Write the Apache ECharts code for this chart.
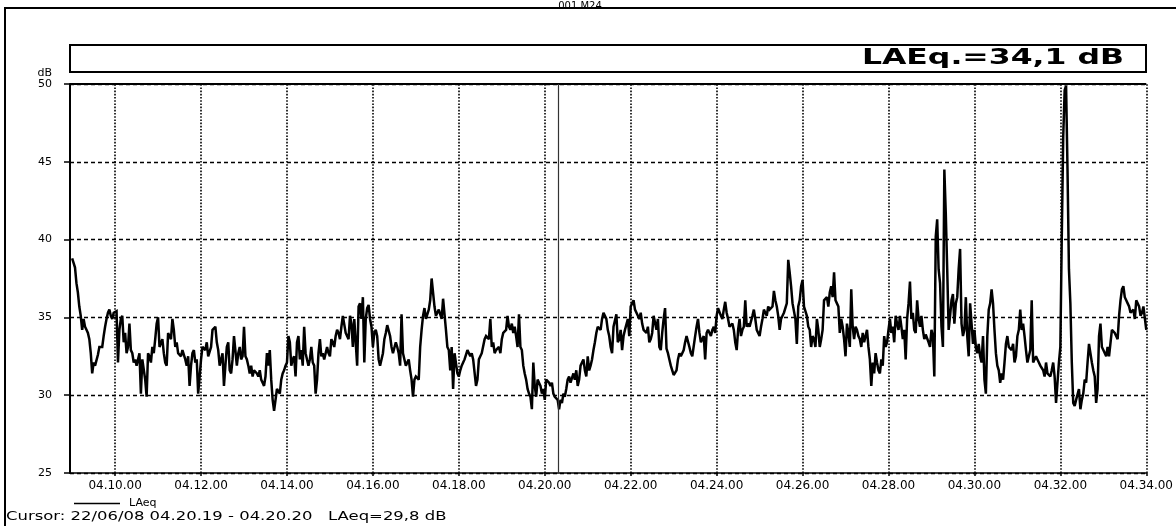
<!DOCTYPE html>
<html>
<head>
<meta charset="utf-8">
<script src="https://cdn.jsdelivr.net/npm/echarts@6/dist/echarts.min.js"></script>
<style>
	html, body { margin: 0; padding: 0; background: #fff; }
	#chart { width: 1176px; height: 526px; }
</style>
</head>
<body>
<div id="chart"></div>
<script>
// measurement: LAeq every 2 s from 04:09:00 (seconds since midnight),
// split in two read-offs: on the 4 s marks and 2 s after them
const startSec = 14940;
const stepSec = 4;
const laeqOnMark = [
	38.8, 38.2, 36.6, 35.1, 34.9, 34.2, 33.6, 31.4, 31.9, 32.6,
	33.1, 33.8, 34.9, 35.5, 34.9, 35.4, 32.1, 34.9, 33.4, 32.7,
	34.6, 32.7, 32.3, 31.9, 30.1, 32.3, 29.9, 32.5, 33.1, 33.6,
	35.0, 33.1, 32.7, 31.9, 34.0, 34.9, 33.1, 32.7, 32.5, 32.9,
	31.9, 30.6, 32.7, 32.1, 30.1, 32.3, 33.1, 33.4, 32.5, 34.2,
	34.4, 32.9, 31.9, 30.6, 33.1, 31.6, 32.3, 33.8, 32.7, 32.3,
	34.4, 32.3, 31.4, 31.2, 31.6, 31.2, 31.0, 30.6, 32.7, 32.9,
	29.7, 29.0, 30.3, 31.0, 31.6, 32.1, 33.4, 32.3, 31.2, 33.8,
	32.9, 34.4, 32.3, 32.3, 32.1, 30.1, 32.7, 32.5, 32.3, 33.1,
	32.5, 33.4, 33.8, 34.0, 34.4, 35.1, 34.0, 35.1, 33.1, 34.9,
	35.7, 34.9, 32.1, 35.6, 34.9, 33.1, 34.2, 32.3, 31.9, 33.6,
	34.5, 33.8, 32.7, 33.4, 32.7, 35.2, 32.3, 31.9, 31.6, 29.9,
	31.2, 31.0, 34.2, 35.6, 34.9, 36.1, 37.5, 35.1, 35.5, 34.9,
	36.2, 33.1, 31.6, 30.4, 32.7, 31.2, 31.9, 32.3, 32.9, 32.5,
	32.3, 30.6, 32.3, 32.7, 33.6, 33.8, 34.9, 33.4, 32.9, 33.1,
	33.6, 34.0, 35.1, 34.2, 34.0, 33.8, 35.2, 32.9, 31.4, 30.4,
	29.9, 32.1, 29.9, 30.8, 30.1, 29.7, 31.0, 30.6, 30.1, 29.9,
	29.1, 29.5, 29.9, 31.0, 30.8, 31.4, 31.6, 31.0, 32.1, 31.6,
	32.5, 31.9, 32.9, 34.0, 34.4, 34.9, 35.4, 34.2, 33.1, 34.4,
	35.2, 33.6, 32.9, 34.2, 34.9, 35.7, 36.1, 35.4, 34.9, 34.6,
	34.2, 34.4, 33.6, 35.1, 34.2, 33.1, 34.0, 35.6, 32.7, 31.9,
	31.3, 31.6, 32.7, 32.7, 33.4, 33.8, 32.7, 32.5, 34.4, 34.0,
	33.4, 32.3, 34.2, 33.8, 34.4, 35.1, 35.6, 34.9, 36.0, 34.9,
	34.4, 34.2, 32.9, 34.9, 34.2, 36.1, 34.6, 34.4, 35.5, 34.2,
	33.8, 34.9, 35.3, 35.7, 35.5, 36.7, 35.7, 34.2, 35.1, 35.3,
	38.7, 37.0, 35.9, 33.3, 36.1, 37.4, 35.7, 34.4, 33.1, 33.6,
	34.9, 33.1, 34.2, 36.1, 35.7, 37.0, 37.9, 35.9, 34.0, 34.4,
	32.5, 34.0, 36.8, 33.6, 34.2, 33.6, 34.0, 33.4, 33.1, 30.6,
	31.4, 32.1, 31.4, 31.9, 33.1, 34.2, 34.0, 33.4, 34.6, 35.1,
	33.6, 32.3, 35.9, 34.9, 34.2, 36.1, 34.4, 34.2, 33.9, 33.4,
	34.2, 31.2, 41.3, 37.2, 33.1, 41.7, 34.2, 36.1, 34.6, 36.3,
	39.4, 33.8, 36.3, 32.5, 34.6, 34.2, 32.7, 32.5, 33.8, 30.1,
	35.5, 36.8, 34.2, 31.9, 30.8, 31.0, 33.3, 33.1, 32.9, 32.1,
	33.8, 35.5, 34.6, 32.9, 32.1, 36.1, 32.1, 32.3, 31.9, 31.6,
	32.1, 31.4, 31.6, 31.2, 29.5, 33.1, 46.6, 49.9, 38.1, 32.1,
	29.3, 29.7, 29.1, 30.1, 30.8, 33.3, 32.1, 31.2, 30.4, 34.6,
	32.9, 32.5, 32.5, 34.2, 34.0, 33.6, 36.1, 37.0, 36.1, 35.7,
	35.3, 34.9, 35.9, 35.1, 35.7, 34.2
];
const laeqBetween = [
	38.5, 37.2, 35.7, 34.2, 34.4, 34.0, 32.7, 32.1, 31.9, 33.1,
	33.1, 34.4, 35.3, 35.1, 35.3, 35.4, 34.2, 35.1, 34.0, 33.1,
	32.9, 32.1, 31.9, 32.7, 32.3, 31.0, 32.7, 32.1, 32.7, 34.6,
	33.1, 33.6, 32.1, 34.0, 33.6, 34.2, 33.4, 32.7, 32.9, 32.3,
	32.5, 31.9, 32.9, 32.3, 31.2, 33.1, 32.9, 32.5, 33.1, 34.2,
	33.4, 31.9, 32.7, 31.9, 33.4, 31.4, 33.8, 31.9, 33.1, 32.5,
	32.5, 31.9, 31.9, 31.6, 31.4, 31.6, 30.8, 31.2, 31.9, 31.0,
	29.0, 30.4, 30.1, 31.4, 31.9, 33.8, 31.9, 32.5, 33.4, 32.3,
	31.9, 32.7, 31.9, 33.1, 31.9, 31.0, 33.6, 32.7, 32.3, 32.7,
	33.6, 33.1, 34.2, 33.6, 35.1, 34.0, 33.6, 34.6, 34.9, 31.9,
	35.9, 36.3, 34.9, 35.8, 34.4, 34.0, 33.8, 31.9, 32.7, 34.0,
	34.5, 33.1, 32.7, 33.1, 31.9, 32.7, 31.9, 32.3, 31.0, 31.0,
	31.2, 33.1, 35.1, 34.9, 35.5, 37.5, 35.7, 35.1, 35.5, 36.2,
	34.2, 32.9, 33.1, 32.7, 31.4, 31.6, 32.1, 32.3, 32.9, 32.7,
	32.3, 31.0, 32.5, 32.7, 33.8, 33.6, 33.1, 32.7, 32.9, 32.7,
	34.0, 34.2, 34.4, 34.6, 34.4, 33.1, 33.1, 31.9, 31.0, 30.1,
	29.1, 30.6, 31.0, 30.6, 30.4, 31.0, 30.8, 30.8, 29.9, 29.7,
	29.7, 30.1, 30.4, 31.2, 30.8, 31.0, 30.6, 31.9, 32.3, 31.2,
	31.6, 32.3, 33.4, 34.4, 34.2, 35.3, 34.9, 33.8, 32.7, 34.4,
	33.4, 34.2, 33.8, 34.2, 33.8, 35.9, 35.5, 35.1, 35.3, 34.2,
	34.0, 33.4, 34.0, 35.1, 34.9, 32.9, 34.9, 33.0, 32.3, 31.6,
	31.2, 32.3, 32.5, 32.9, 33.8, 33.1, 32.5, 33.8, 34.9, 33.4,
	33.8, 34.0, 34.2, 34.2, 34.0, 35.6, 35.1, 35.5, 35.3, 34.4,
	34.6, 33.4, 34.2, 33.8, 34.4, 34.4, 34.4, 35.1, 34.9, 34.0,
	34.4, 35.5, 35.1, 35.5, 35.7, 36.1, 35.1, 34.9, 35.3, 35.9,
	37.9, 35.9, 34.9, 35.7, 37.0, 35.7, 35.1, 34.2, 33.8, 33.1,
	34.2, 33.6, 36.1, 36.3, 36.6, 36.3, 36.1, 35.7, 34.9, 33.6,
	34.6, 33.1, 34.4, 34.4, 33.8, 33.1, 33.4, 34.2, 32.3, 32.1,
	32.7, 31.6, 32.3, 33.8, 33.4, 34.9, 34.4, 35.1, 34.2, 34.4,
	34.2, 34.9, 37.3, 35.3, 34.0, 34.9, 35.1, 33.6, 33.8, 33.1,
	33.8, 40.2, 38.1, 34.4, 44.5, 38.1, 35.1, 36.5, 35.9, 38.1,
	34.6, 34.2, 33.8, 35.9, 33.3, 33.1, 33.3, 32.1, 31.0, 33.8,
	35.9, 35.9, 32.7, 31.6, 31.4, 32.1, 33.8, 33.1, 33.3, 32.5,
	34.2, 34.2, 33.8, 32.1, 32.9, 32.1, 32.5, 32.1, 31.9, 31.2,
	31.4, 31.2, 32.1, 29.5, 32.1, 40.2, 49.6, 44.5, 35.9, 29.5,
	29.7, 30.4, 29.7, 31.0, 32.1, 32.7, 31.6, 29.5, 33.8, 33.1,
	32.9, 33.1, 32.5, 34.2, 34.0, 35.1, 36.8, 36.3, 35.9, 35.3,
	35.5, 36.1, 35.7, 35.3, 35.7
];
// axis range and labelled ticks (seconds since midnight)
const xMin = 14937; // 04.08.57
const xMax = 16440; // 04.34.00
const tickSecs = [ 15000, 15120, 15240, 15360, 15480, 15600, 15720, 15840, 15960, 16080, 16200, 16320, 16440 ];
const cursorSec = 15619.5; // 04.20.19 - 04.20.20
const yTicks = { min: 25, max: 50, step: 5 };
const fileName = '001.M24';
const totalText = 'LAEq.=34,1 dB';
const cursorText = 'Cursor: 22/06/08 04.20.19 - 04.20.20   LAeq=29,8 dB';

const pad = ( n ) => ( n < 10 ? '0' : '' ) + n;
const fmtTime = ( s ) => pad( Math.floor( s / 3600 ) ) + '.' + pad( Math.floor( s % 3600 / 60 ) ) + '.' + pad( Math.round( s % 60 ) );

// interleave the two read-offs into one 2 s series
const points = [];
laeqOnMark.forEach( ( v, i ) => {
	const t = startSec + i * stepSec;
	points.push( [ t, v ] );
	if ( i < laeqBetween.length ) {
		points.push( [ t + stepSec / 2, laeqBetween[ i ] ] );
	}
} );

const font = '"DejaVu Sans", sans-serif';
const chart = echarts.init( document.getElementById( 'chart' ), null, { renderer: 'canvas' } );

const gridLines = tickSecs.map( ( s ) => ( {
	xAxis: s,
	lineStyle: { color: '#000', width: 1.6, type: [ 1.6, 1.6 ] }
} ) );

chart.setOption( {
	animation: false,
	backgroundColor: '#fff',
	textStyle: { fontFamily: font },
	grid: { left: 70, top: 84, right: 29, bottom: 53, containLabel: false },
	legend: {
		data: [ 'LAeq' ],
		left: 69,
		top: 493,
		icon: 'rect',
		itemWidth: 46,
		itemHeight: 1.5,
		textStyle: { color: '#000', fontSize: 11, fontFamily: font, padding: [ 0, 0, 0, 4 ] }
	},
	xAxis: {
		type: 'value',
		min: xMin,
		max: xMax,
		axisLine: { lineStyle: { color: '#000', width: 1.5 } },
		axisTick: { customValues: tickSecs, length: 3, lineStyle: { color: '#000', width: 1.5 } },
		axisLabel: {
			customValues: tickSecs,
			formatter: fmtTime,
			color: '#000',
			fontSize: 12,
			fontFamily: font,
			margin: 7
		},
		splitLine: { show: false }
	},
	yAxis: {
		type: 'value',
		min: yTicks.min,
		max: yTicks.max,
		interval: yTicks.step,
		name: 'dB',
		nameGap: 9,
		nameTextStyle: { color: '#000', fontSize: 11, fontFamily: font, align: 'right', verticalAlign: 'middle', padding: [ 0, 18, 0, 0 ] },
		axisLine: { show: true, lineStyle: { color: '#000', width: 2 } },
		axisTick: { show: true, length: 6, lineStyle: { color: '#000', width: 1.5 } },
		axisLabel: { color: '#000', fontSize: 11, fontFamily: font, margin: 18 },
		splitLine: { show: true, lineStyle: { color: '#000', width: 1.3, type: [ 4, 3 ] } }
	},
	series: [ {
		name: 'LAeq',
		type: 'line',
		data: points,
		symbol: 'none',
		color: '#000',
		lineStyle: { color: '#000', width: 2.5, join: 'miter', miterLimit: 2 },
		markLine: {
			silent: true,
			symbol: 'none',
			label: { show: false },
			data: gridLines.concat( [
				{ yAxis: yTicks.max, lineStyle: { color: '#000', width: 2, type: 'solid' } },
				{ xAxis: cursorSec, lineStyle: { color: '#333', width: 1.2, type: 'solid' } }
			] )
		}
	} ],
	graphic: [
		{ type: 'polyline', shape: { points: [ [ 5, 526 ], [ 5, 8 ], [ 1176, 8 ] ] }, style: { stroke: '#000', lineWidth: 2, fill: null } },
		{ type: 'text', x: 580, y: 1, style: { text: fileName, font: '10px ' + font, fill: '#000', align: 'center', verticalAlign: 'top' } },
		{ type: 'rect', shape: { x: 70, y: 45, width: 1076, height: 27 }, style: { stroke: '#000', lineWidth: 2, fill: null } },
		{ type: 'text', x: 1124, y: 59, scaleX: 1.5, style: { text: totalText, font: 'bold 21px ' + font, fill: '#000', align: 'right', verticalAlign: 'middle' } },
		{ type: 'text', x: 6, y: 517, scaleX: 1.37, style: { text: cursorText, font: '12px ' + font, fill: '#000', align: 'left', verticalAlign: 'middle' } }
	]
} );
</script>
</body>
</html>
